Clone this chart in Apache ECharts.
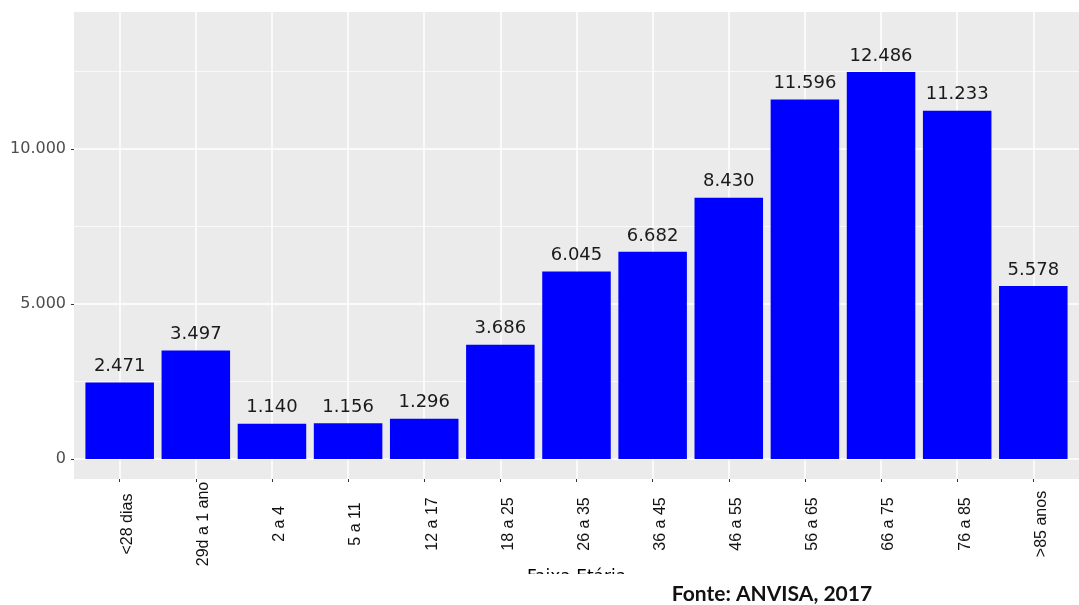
<!DOCTYPE html>
<html>
<head>
<meta charset="utf-8">
<title>Faixa Etária</title>
<script src="https://cdn.jsdelivr.net/npm/echarts@6/dist/echarts.min.js"></script>
<style>
  html, body { margin: 0; padding: 0; background: #ffffff; }
  #chart { width: 1079px; height: 605px; }
</style>
</head>
<body>
<div id="chart"></div>
<script>
// Age bands and counts
const categories = ['<28 dias', '29d a 1 ano', '2 a 4', '5 a 11', '12 a 17', '18 a 25', '26 a 35',
                    '36 a 45', '46 a 55', '56 a 65', '66 a 75', '76 a 85', '>85 anos'];
const values = [2471, 3497, 1140, 1156, 1296, 3686, 6045, 6682, 8430, 11596, 12486, 11233, 5578];

// Y axis ticks (major labelled, minor grid only)
const yMajorTicks = [0, 5000, 10000];
const yMinorTicks = [2500, 7500, 12500];

// Y range including the panel padding below zero and above the tallest bar
const yMin = -645;
const yMax = 14419;

// Thousands separator in Portuguese style: 12486 -> "12.486"
function fmt(v) {
  return String(Math.round(v)).replace(/\B(?=(\d{3})+(?!\d))/g, '.');
}

const catIndex = categories.map((c, i) => i);
const NUM_FONT = "'DejaVu Sans', 'Liberation Sans', sans-serif";

const chart = echarts.init(document.getElementById('chart'), null, { renderer: 'canvas' });

chart.setOption({
  backgroundColor: '#ffffff',
  animation: false,
  grid: {
    left: 74,
    right: -9,
    top: 12,
    bottom: 126,
    show: true,
    backgroundColor: '#EBEBEB',
    borderWidth: 0
  },
  xAxis: {
    type: 'value',
    min: -0.6,
    max: categories.length - 1 + 0.6,
    name: 'Faixa Etária',
    nameLocation: 'middle',
    nameGap: 90,
    nameMoveOverlap: false,
    nameTextStyle: {
      fontFamily: NUM_FONT, fontSize: 17, color: '#000000',
      verticalAlign: 'top'
    },
    axisLine: { show: false, onZero: false },
    axisTick: {
      show: true,
      customValues: catIndex,
      length: 3,
      lineStyle: { color: '#333333', width: 1 }
    },
    axisLabel: {
      customValues: catIndex,
      formatter: v => categories[Math.round(v)],
      rotate: 90,
      align: 'center',
      verticalAlign: 'top',
      margin: 45,
      fontFamily: "'Liberation Sans', Arial, sans-serif",
      fontSize: 16,
      color: '#111111'
    },
    splitLine: { show: true, lineStyle: { color: '#ffffff', width: 1.5 } }
  },
  yAxis: [
    {
      type: 'value',
      min: yMin,
      max: yMax,
      axisLine: { show: false, onZero: false },
      axisTick: {
        show: true,
        customValues: yMajorTicks,
        length: 3,
        lineStyle: { color: '#333333', width: 1 }
      },
      axisLabel: {
        customValues: yMajorTicks,
        formatter: v => fmt(v),
        margin: 8,
        fontFamily: NUM_FONT,
        fontSize: 16,
        color: '#4d4d4d'
      },
      splitLine: { show: true, lineStyle: { color: '#ffffff', width: 1.5 } }
    },
    {
      type: 'value',
      min: yMin,
      max: yMax,
      position: 'left',
      axisLine: { show: false, onZero: false },
      axisTick: { show: false, customValues: yMinorTicks },
      axisLabel: { show: false, customValues: yMinorTicks },
      splitLine: { show: true, lineStyle: { color: '#ffffff', width: 0.7 } }
    }
  ],
  series: [
    {
      type: 'bar',
      yAxisIndex: 0,
      data: values.map((v, i) => [i, v]),
      barWidth: '90%',
      itemStyle: { color: '#0000FF' },
      label: {
        show: true,
        position: 'top',
        distance: 7,
        formatter: p => fmt(p.value[1]),
        fontFamily: NUM_FONT,
        fontSize: 18,
        color: '#1a1a1a'
      }
    }
  ],
  graphic: [
    {
      type: 'rect',
      left: 0,
      top: 574,
      shape: { width: 1079, height: 31 },
      style: { fill: '#ffffff' },
      z: 100
    },
    {
      type: 'text',
      x: 772,
      y: 594,
      style: {
        text: 'Fonte: ANVISA, 2017',
        font: "bold 21px Lato, 'Open Sans', sans-serif",
        fill: '#111111',
        textAlign: 'center',
        textVerticalAlign: 'middle'
      },
      z: 101
    }
  ]
});
</script>
</body>
</html>
